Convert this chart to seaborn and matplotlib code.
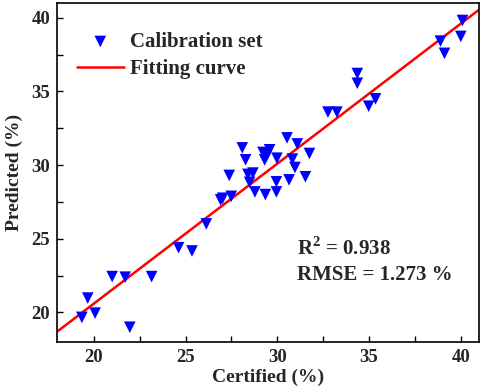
import numpy as np
import pandas as pd
import matplotlib
matplotlib.use('Agg')
import matplotlib.pyplot as plt
import seaborn as sns
from matplotlib.ticker import MultipleLocator

sns.set_style('white')
plt.rcParams['font.family'] = ['Liberation Serif', 'DejaVu Serif']
plt.rcParams['font.weight'] = 'bold'
plt.rcParams['mathtext.fontset'] = 'custom'
plt.rcParams['mathtext.rm'] = 'Liberation Serif:bold'

# calibration set, certified vs predicted (%)
certified = [19.35, 19.67, 20.07, 21.96, 21.0, 21.71, 23.15, 24.62, 25.35, 26.13,
             26.91, 27.02, 27.49, 27.38, 28.09, 28.27, 28.4, 28.67, 28.49, 28.78,
             29.35, 29.22, 29.31, 29.4, 29.58, 29.45, 29.98, 29.95, 29.95, 30.53,
             30.64, 30.82, 30.96, 31.09, 31.53, 31.75, 32.76, 33.25, 34.36, 34.36,
             34.98, 35.35, 38.89, 39.11, 40.0, 40.09]
predicted = [19.66, 20.97, 19.95, 18.99, 22.43, 22.39, 22.43, 24.39, 24.17, 26.01,
             27.64, 27.75, 27.88, 29.30, 31.17, 30.36, 29.37, 29.46, 28.83, 28.18,
             28.0, 30.86, 30.36, 30.59, 31.04, 30.77, 30.47, 28.87, 28.18, 31.85,
             29.0, 30.41, 29.84, 31.44, 29.21, 30.79, 33.6, 33.6, 36.22, 35.56,
             34.0, 34.5, 38.42, 37.59, 38.74, 39.82]

# fitting curve end points
fit_x = [18.0, 41.0]
fit_y = [18.69, 40.56]

df = pd.DataFrame({'Certified': certified, 'Predicted': predicted})
df_fit = pd.DataFrame({'x': fit_x, 'y': fit_y})

fig = plt.figure(figsize=(4.84, 3.92), dpi=100)
ax = fig.add_axes([0.118, 0.128, 0.872, 0.864])

sns.scatterplot(data=df, x='Certified', y='Predicted', ax=ax, marker='v',
                color='#0000FF', edgecolor='none', s=70, zorder=3,
                label='Calibration set')
sns.lineplot(data=df_fit, x='x', y='y', ax=ax, color='#FF0000', lw=1.8,
             zorder=2, label='Fitting curve')

ax.set_xlim(18, 41)
ax.set_ylim(18, 41)
ax.xaxis.set_major_locator(MultipleLocator(5))
ax.xaxis.set_minor_locator(MultipleLocator(2.5))
ax.yaxis.set_major_locator(MultipleLocator(5))
ax.yaxis.set_minor_locator(MultipleLocator(2.5))
ax.tick_params(which='both', direction='in', length=4, width=1, color='black',
               bottom=True, left=True, top=False, right=False, labelsize=13.5, pad=5)
for sp in ax.spines.values():
    sp.set_color('black')
    sp.set_linewidth(1.2)

ax.set_xlabel('Certified (%)', fontsize=14, fontweight='bold', labelpad=2)
ax.set_ylabel('Predicted (%)', fontsize=14, fontweight='bold', labelpad=6)

ax.text(0.568, 0.277, r'R$^{2}$ = 0.938', transform=ax.transAxes,
        fontsize=15, fontweight='bold', va='center')
ax.text(0.568, 0.198, 'RMSE = 1.273 %', transform=ax.transAxes,
        fontsize=15, fontweight='bold', va='center')

leg = ax.legend(loc='upper left', bbox_to_anchor=(0.012, 0.958), frameon=False,
                prop={'size': 15, 'weight': 'bold'}, handlelength=2.26,
                handletextpad=0.3, borderaxespad=0.3, labelspacing=0.35)

fig.savefig('out.png', dpi=100)
